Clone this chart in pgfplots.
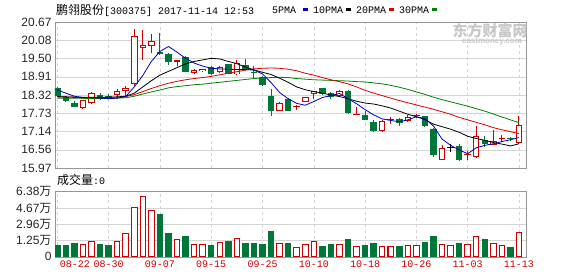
\documentclass[border=0pt]{standalone}
\usepackage{pgfplots}
\pgfplotsset{compat=1.18}
\usepackage{pgfplotstable}
\usepackage{fontspec}
\setmainfont{Liberation Sans}
\newfontfamily\cjk{Noto Sans CJK SC}
\newfontfamily\mono{Liberation Mono}
\definecolor{cred}{RGB}{204,0,0}
\definecolor{cgreen}{RGB}{0,118,56}
\definecolor{mablue}{RGB}{0,0,190}
\definecolor{mared}{RGB}{220,0,0}
\definecolor{magreen}{RGB}{0,128,0}
\definecolor{gridc}{RGB}{212,212,212}
\definecolor{framec}{RGB}{150,150,150}

% up (red, hollow) candles
\pgfplotstableread{
i o h l c
3 17.89 18.17 17.87 18.15
4 18.05 18.42 18.03 18.37
7 18.32 18.50 18.20 18.44
8 18.45 18.60 18.25 18.56
9 18.66 20.45 18.60 20.22
10 19.82 20.40 19.45 19.93
11 19.91 20.28 19.66 20.07
14 19.39 19.45 19.25 19.44
16 19.02 19.16 19.00 19.14
17 19.08 19.17 19.06 19.15
19 19.05 19.25 19.02 19.23
21 18.98 19.44 18.96 19.34
26 17.81 18.09 17.79 18.07
28 17.93 18.00 17.83 17.96
29 18.10 18.26 18.08 18.24
30 18.35 18.46 18.20 18.44
33 18.28 18.47 18.26 18.45
35 17.68 17.92 17.67 17.71
38 17.16 17.50 17.14 17.48
39 17.52 17.60 17.40 17.55
41 17.48 17.68 17.46 17.62
42 17.64 17.70 17.57 17.67
45 16.24 16.70 16.22 16.60
48 16.40 16.52 16.24 16.43
49 16.32 17.31 16.30 17.00
51 16.72 17.20 16.70 16.84
52 16.90 17.02 16.80 16.93
54 16.76 17.64 16.74 17.37
}\upTab

% down (green, filled) candles
\pgfplotstableread{
i o h l c
0 18.53 18.58 18.26 18.28
1 18.26 18.28 18.10 18.12
2 18.07 18.12 17.92 17.94
5 18.32 18.40 18.15 18.20
6 18.28 18.35 18.18 18.20
12 19.71 20.30 19.62 19.64
13 19.64 19.66 19.28 19.38
15 19.53 19.58 19.05 19.07
18 19.23 19.25 18.96 18.98
20 19.31 19.33 18.98 19.00
22 19.28 19.48 19.13 19.15
23 19.07 19.25 18.85 19.04
24 18.91 18.93 18.61 18.63
25 18.28 18.50 17.65 17.81
27 18.19 18.21 17.79 17.81
31 18.53 18.55 18.33 18.35
32 18.39 18.41 18.20 18.26
34 18.45 18.47 17.72 17.74
36 17.69 17.80 17.51 17.53
37 17.45 17.50 17.13 17.15
40 17.55 17.57 17.33 17.43
43 17.64 17.66 17.29 17.31
44 17.24 17.26 16.33 16.38
47 16.68 16.75 16.20 16.24
50 16.86 17.00 16.63 16.73
53 16.93 16.97 16.85 16.90
}\downTab

% doji (black)
\pgfplotstableread{
i o h l c
46 16.61 16.74 16.50 16.64
}\dojiTab

% moving averages
\pgfplotstableread{
i ma5 ma10 ma20 ma30
0 18.48 18.27 18.26 18.22
1 18.38 18.26 18.26 18.22
2 18.28 18.25 18.25 18.22
3 18.24 18.25 18.24 18.21
4 18.24 18.25 18.24 18.21
5 18.22 18.25 18.24 18.21
6 18.20 18.25 18.24 18.21
7 18.22 18.26 18.25 18.22
8 18.27 18.28 18.27 18.23
9 18.58 18.38 18.33 18.28
10 18.95 18.58 18.43 18.35
11 19.40 18.78 18.53 18.42
12 19.72 18.96 18.62 18.48
13 19.88 19.08 18.70 18.55
14 19.70 19.20 18.76 18.59
15 19.50 19.32 18.81 18.62
16 19.35 19.40 18.85 18.65
17 19.25 19.45 18.88 18.67
18 19.18 19.50 18.92 18.70
19 19.16 19.48 18.97 18.73
20 19.15 19.40 19.02 18.76
21 19.14 19.33 19.07 18.79
22 19.14 19.22 19.12 18.82
23 19.12 19.13 19.16 18.85
24 19.00 19.05 19.18 18.87
25 18.72 18.98 19.19 18.88
26 18.40 18.86 19.18 18.89
27 18.20 18.73 19.15 18.88
28 18.05 18.58 19.10 18.85
29 17.99 18.49 19.02 18.83
30 18.11 18.43 18.96 18.81
31 18.24 18.38 18.88 18.80
32 18.30 18.32 18.81 18.79
33 18.37 18.27 18.75 18.78
34 18.20 18.20 18.68 18.77
35 18.04 18.12 18.58 18.75
36 17.85 18.06 18.47 18.74
37 17.68 18.03 18.38 18.71
38 17.55 17.97 18.30 18.68
39 17.50 17.90 18.22 18.63
40 17.46 17.80 18.14 18.57
41 17.52 17.70 18.07 18.50
42 17.62 17.62 18.00 18.42
43 17.56 17.53 17.93 18.34
44 17.32 17.38 17.86 18.25
45 16.90 17.30 17.78 18.17
46 16.70 17.22 17.70 18.10
47 16.55 17.12 17.60 18.03
48 16.43 16.99 17.52 17.96
49 16.62 16.92 17.44 17.88
50 16.70 16.86 17.36 17.80
51 16.75 16.79 17.27 17.71
52 16.82 16.74 17.20 17.61
53 16.88 16.68 17.14 17.52
54 16.95 16.75 17.08 17.43
}\maTab

% volume (units of 10^4 shares, as read on the axis labels)
\pgfplotstableread{
i v
3 0.87
4 1.19
7 1.19
8 1.93
9 4.73
10 5.92
11 4.45
14 1.40
16 0.87
17 0.87
19 1.08
21 1.47
26 0.98
28 0.50
29 0.84
30 1.15
33 0.84
35 0.63
38 0.63
39 0.63
41 0.73
42 0.73
45 0.84
46 0.73
48 0.84
49 1.68
51 0.94
52 0.73
54 2.10
}\volUp

\pgfplotstableread{
i v
0 0.77
1 0.77
2 0.98
5 0.87
6 0.77
12 4.03
13 1.93
15 1.71
18 0.77
20 1.12
22 0.98
23 0.98
24 0.87
25 2.24
27 0.98
31 0.63
32 0.84
34 1.36
36 0.73
37 0.94
40 0.63
43 1.08
44 1.68
47 0.94
50 1.36
53 0.52
}\volDown

\pgfplotsset{
  kbase/.style={
    scale only axis, width=471pt,
    xmin=-0.27, xmax=54.82,
    axis line style={draw=framec},
    major tick length=0pt,
    xmajorgrids, ymajorgrids,
    x grid style={draw=gridc, dash pattern=on 3pt off 3pt},
    y grid style={draw=gridc},
    yticklabel style={font=\fontsize{12}{14}\selectfont, text=black!85},
  },
  wick/.style={draw=none, forget plot, error bars/.cd, y dir=plus, y explicit, error mark=none,
    error bar style={draw=#1, line width=1pt}},
  body/.style 2 args={draw=none, forget plot, error bars/.cd, y dir=plus, y explicit, error mark=none,
    error bar style={draw=#1, line width=#2}},
}

\begin{document}
\begin{tikzpicture}
\useasboundingbox (0pt,0pt) rectangle (578pt,276pt);

% ---- price panel ----
\begin{axis}[kbase,
  at={(55pt,108pt)}, anchor=south west, height=146pt,
  ymin=15.97, ymax=20.67,
  xtick={0,6,...,54}, xticklabels={},
  ytick={15.97,16.5575,17.145,17.7325,18.32,18.9075,19.495,20.0825,20.67},
  yticklabels={15.97,16.56,17.14,17.73,18.32,18.91,19.50,20.08,20.67},
  extra y ticks={18.32}, extra y tick labels={},
  extra y tick style={grid=major, major grid style={draw=black!45}},
]
% wicks
\addplot[wick=cred] table[x=i, y=l, y error expr=\thisrow{h}-\thisrow{l}] {\upTab};
\addplot[wick=cgreen] table[x=i, y=l, y error expr=\thisrow{h}-\thisrow{l}] {\downTab};
\addplot[wick=black] table[x=i, y=l, y error expr=\thisrow{h}-\thisrow{l}] {\dojiTab};
% bodies
\addplot[body={cgreen}{6.5pt}] table[x=i, y=c, y error expr=\thisrow{o}-\thisrow{c}] {\downTab};
\addplot[body={cred}{6.5pt}] table[x=i, y=o, y error expr=\thisrow{c}-\thisrow{o}] {\upTab};
\addplot[body={white}{4.5pt}] table[x=i, y expr=\thisrow{o}+0.032, y error expr={max(\thisrow{c}-\thisrow{o}-0.064,0)}] {\upTab};
\addplot[body={black}{6.5pt}] table[x=i, y=o, y error expr=\thisrow{c}-\thisrow{o}] {\dojiTab};
% moving averages
\addplot[magreen, line width=0.8pt, mark=none] table[x=i, y=ma30] {\maTab};
\addplot[mared, line width=0.8pt, mark=none] table[x=i, y=ma20] {\maTab};
\addplot[black, line width=0.8pt, mark=none] table[x=i, y=ma10] {\maTab};
\addplot[mablue, line width=0.8pt, mark=none] table[x=i, y=ma5] {\maTab};
\end{axis}

% ---- volume panel ----
\begin{axis}[kbase,
  at={(55pt,19.3pt)}, anchor=south west, height=65pt,
  ymin=0, ymax=6.84,
  ytick={0,1.71,3.42,5.13,6.84},
  yticklabels={0,{1.25{\cjk 万}},{2.96{\cjk 万}},{4.67{\cjk 万}},{6.38{\cjk 万}}},
  xtick={6,12,...,54},
  xticklabels={08-30,09-07,09-15,09-25,10-10,10-18,10-26,11-03,11-13},
  extra x ticks={0}, extra x tick labels={08-22},
  extra x tick style={grid=major, xticklabel style={xshift=17.5pt}},
  xticklabel style={font=\mono\fontsize{10}{10}\selectfont, text=cred, yshift=-1pt},
]
\addplot[ybar, bar width=5.5pt, bar shift=0pt, draw=cred, fill=white, line width=1pt]
  table[x=i, y expr=\thisrow{v}+0.46] {\volUp};
\addplot[ybar, bar width=5.5pt, bar shift=0pt, draw=cgreen, fill=cgreen, line width=1pt]
  table[x=i, y expr=\thisrow{v}+0.46] {\volDown};
\end{axis}

% ---- texts ----
\node[anchor=west, inner sep=0pt] at (56pt,266pt) {{\cjk\fontsize{12}{12}\selectfont 鹏翎股份}{\mono\fontsize{10}{10}\selectfont [300375] 2017-11-14 12:53}};
\node[anchor=west, inner sep=0pt] at (272pt,266pt) {\mono\fontsize{10}{10}\selectfont 5PMA};
\node[anchor=west, inner sep=0pt] at (302.5pt,266pt) {\textcolor{mablue}{\rule{5pt}{3pt}}};
\node[anchor=west, inner sep=0pt] at (313pt,266pt) {\mono\fontsize{10}{10}\selectfont 10PMA};
\node[anchor=west, inner sep=0pt] at (346pt,266pt) {\textcolor{black}{\rule{5pt}{3pt}}};
\node[anchor=west, inner sep=0pt] at (356pt,266pt) {\mono\fontsize{10}{10}\selectfont 20PMA};
\node[anchor=west, inner sep=0pt] at (389pt,266pt) {\textcolor{mared}{\rule{5pt}{3pt}}};
\node[anchor=west, inner sep=0pt] at (399pt,266pt) {\mono\fontsize{10}{10}\selectfont 30PMA};
\node[anchor=west, inner sep=0pt] at (432pt,266pt) {\textcolor{magreen}{\rule{5pt}{3pt}}};
\node[anchor=west, inner sep=0pt] at (57pt,96pt) {{\cjk\fontsize{12}{12}\selectfont 成交量}{\mono\fontsize{10}{10}\selectfont :0}};
% watermark
\node[anchor=center, inner sep=0pt, text=black!22] at (490pt,245pt) {\cjk\bfseries\fontsize{15}{15}\selectfont 东方财富网};
\node[anchor=center, inner sep=0pt, text=black!22] at (492pt,234pt) {\bfseries\fontsize{8}{8}\selectfont eastmoney.com};
\end{tikzpicture}
\end{document}
